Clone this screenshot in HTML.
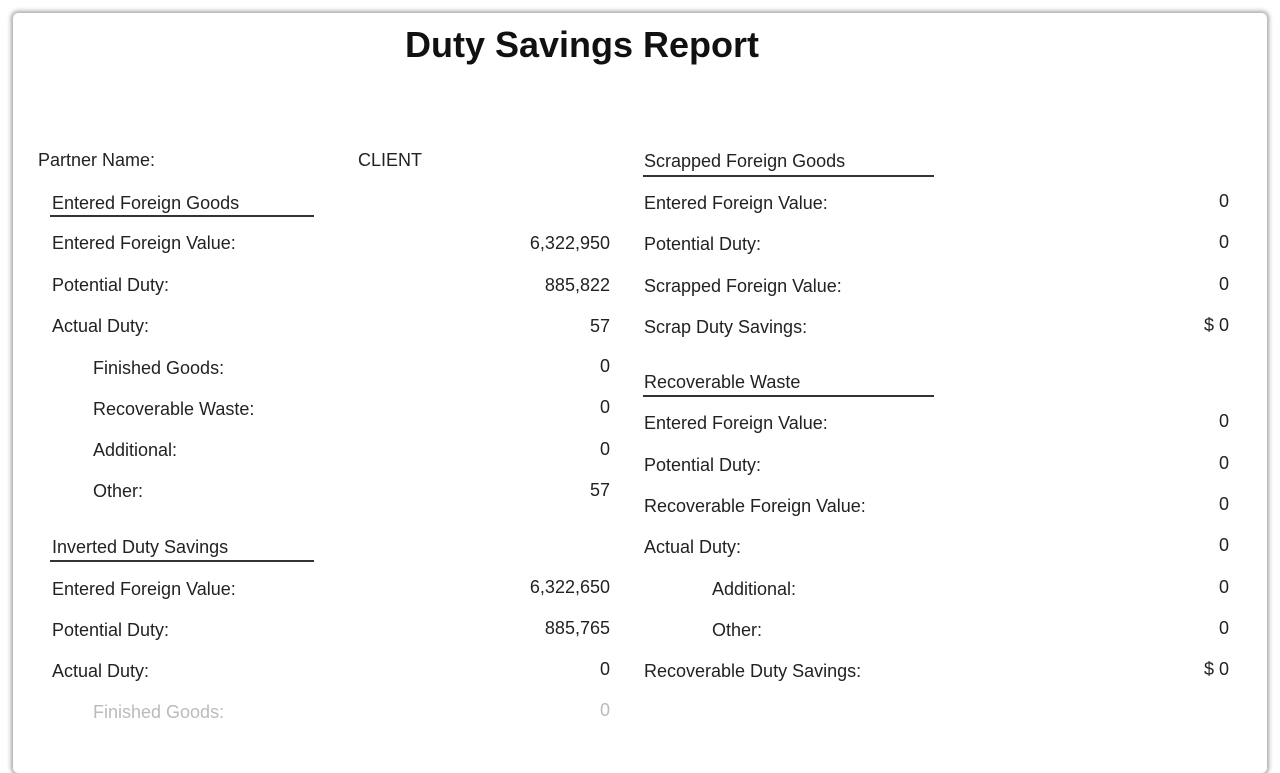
<!DOCTYPE html>
<html><head><meta charset="utf-8"><style>
html,body{margin:0;padding:0;background:#fff;width:1280px;height:720px;overflow:hidden}
.card{position:absolute;left:13px;top:13px;width:1254px;height:760px;background:#fff;border-radius:5px;box-shadow:0 0 4px 2px rgba(0,0,0,0.35)}
.t{position:absolute;font-family:"Liberation Sans",sans-serif;font-size:18px;color:#222;line-height:20px;white-space:nowrap;transform:translateY(-10px)}
.r{text-align:right;width:200px}
.h{position:absolute;font-family:"Liberation Sans",sans-serif;font-weight:bold;font-size:36px;color:#111;left:0;width:1164px;text-align:center;top:24px}
.u{position:absolute;height:2px;background:#333}
</style></head><body>
<div class="card"></div>
<div class="h">Duty Savings Report</div>

<div class="t" style="left:38px;top:160px">Partner Name:</div>
<div class="t" style="left:358px;top:160px">CLIENT</div>
<div class="t" style="left:52px;top:203px">Entered Foreign Goods</div>
<div class="u" style="left:50px;top:215px;width:264px"></div>
<div class="t" style="left:52px;top:243px">Entered Foreign Value:</div><div class="t r" style="left:410px;top:243px">6,322,950</div>
<div class="t" style="left:52px;top:285px">Potential Duty:</div><div class="t r" style="left:410px;top:285px">885,822</div>
<div class="t" style="left:52px;top:326px">Actual Duty:</div><div class="t r" style="left:410px;top:326px">57</div>
<div class="t" style="left:93px;top:368px">Finished Goods:</div><div class="t r" style="left:410px;top:366px">0</div>
<div class="t" style="left:93px;top:409px">Recoverable Waste:</div><div class="t r" style="left:410px;top:407px">0</div>
<div class="t" style="left:93px;top:450px">Additional:</div><div class="t r" style="left:410px;top:449px">0</div>
<div class="t" style="left:93px;top:491px">Other:</div><div class="t r" style="left:410px;top:490px">57</div>
<div class="t" style="left:52px;top:547px">Inverted Duty Savings</div>
<div class="u" style="left:50px;top:560px;width:264px"></div>
<div class="t" style="left:52px;top:589px">Entered Foreign Value:</div><div class="t r" style="left:410px;top:587px">6,322,650</div>
<div class="t" style="left:52px;top:630px">Potential Duty:</div><div class="t r" style="left:410px;top:628px">885,765</div>
<div class="t" style="left:52px;top:671px">Actual Duty:</div><div class="t r" style="left:410px;top:669px">0</div>
<div class="t" style="left:93px;top:712px;color:#bbb">Finished Goods:</div><div class="t r" style="left:410px;top:710px;color:#bbb">0</div>

<div class="t" style="left:644px;top:161px">Scrapped Foreign Goods</div>
<div class="u" style="left:643px;top:175px;width:291px"></div>
<div class="t" style="left:644px;top:203px">Entered Foreign Value:</div><div class="t r" style="left:1029px;top:201px">0</div>
<div class="t" style="left:644px;top:244px">Potential Duty:</div><div class="t r" style="left:1029px;top:242px">0</div>
<div class="t" style="left:644px;top:286px">Scrapped Foreign Value:</div><div class="t r" style="left:1029px;top:284px">0</div>
<div class="t" style="left:644px;top:327px">Scrap Duty Savings:</div><div class="t r" style="left:1029px;top:325px">$ 0</div>
<div class="t" style="left:644px;top:382px">Recoverable Waste</div>
<div class="u" style="left:643px;top:395px;width:291px"></div>
<div class="t" style="left:644px;top:423px">Entered Foreign Value:</div><div class="t r" style="left:1029px;top:421px">0</div>
<div class="t" style="left:644px;top:465px">Potential Duty:</div><div class="t r" style="left:1029px;top:463px">0</div>
<div class="t" style="left:644px;top:506px">Recoverable Foreign Value:</div><div class="t r" style="left:1029px;top:504px">0</div>
<div class="t" style="left:644px;top:547px">Actual Duty:</div><div class="t r" style="left:1029px;top:545px">0</div>
<div class="t" style="left:712px;top:589px">Additional:</div><div class="t r" style="left:1029px;top:587px">0</div>
<div class="t" style="left:712px;top:630px">Other:</div><div class="t r" style="left:1029px;top:628px">0</div>
<div class="t" style="left:644px;top:671px">Recoverable Duty Savings:</div><div class="t r" style="left:1029px;top:669px">$ 0</div>
</body></html>
